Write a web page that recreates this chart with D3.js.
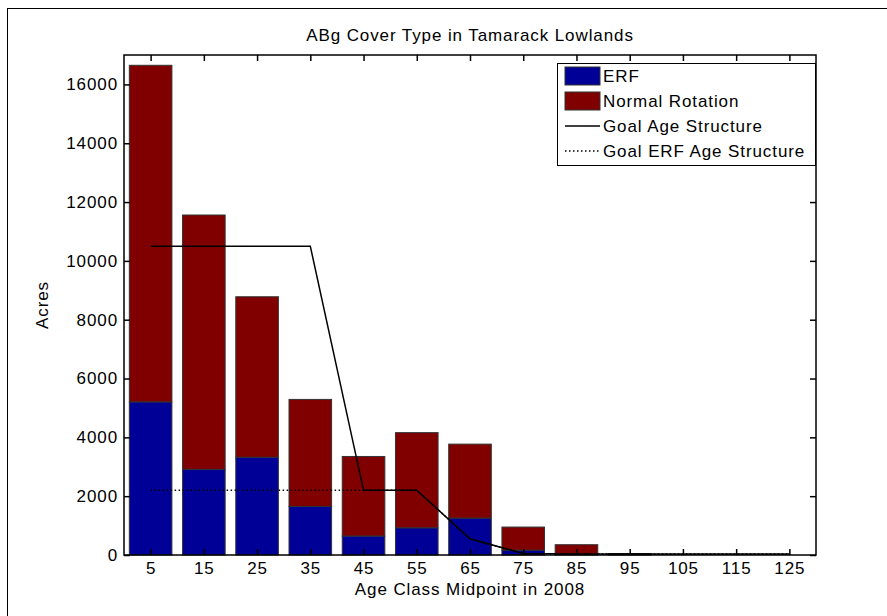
<!DOCTYPE html>
<html>
<head>
<meta charset="utf-8">
<script src="https://cdn.jsdelivr.net/npm/d3@7"></script>
<style>
  body { margin: 0; background: #fff; }
  text { font-family: "Liberation Sans", Arial, sans-serif; fill: #000; font-size: 17px; letter-spacing: 0.9px; }
</style>
</head>
<body>
<script>
// age class midpoints
let ages = [5, 15, 25, 35, 45, 55, 65, 75, 85, 95, 105, 115, 125];
// acres in each class
let erf = [5200, 2910, 3320, 1650, 640, 920, 1250, 160, 0, 0, 0, 0, 0];
let normal = [11450, 8650, 5460, 3640, 2710, 3240, 2520, 790, 350, 50, 0, 0, 0];
let goal = [10500, 10500, 10500, 10500, 2200, 2200, 550, 50, 30, 30, 30, 30, 30];
let goalErf = [2200, 2200, 2200, 2200, 2200, 2200, 550, 50, 30, 30, 30, 30, 30];
let yTicks = [0, 2000, 4000, 6000, 8000, 10000, 12000, 14000, 16000];

let width = 887, height = 616;
let plotLeft = 124, plotRight = 816, plotTop = 55, plotBottom = 555;

let svg = d3.select('body').append('svg').attr('width', width).attr('height', height);

// figure frame
svg.append('rect').attr('x', 7.5).attr('y', 8.5).attr('width', 900).attr('height', 700)
   .attr('fill', 'none').attr('stroke', '#000');

let x = d3.scaleLinear().domain([0, 130]).range([plotLeft, plotRight]);
let y = d3.scaleLinear().domain([0, 17000]).range([plotBottom, plotTop]);

let barW = x(8) - x(0);

// stacked bars
let g = svg.append('g');
ages.forEach(function (a, i) {
  g.append('rect')
   .attr('x', x(a) - barW / 2).attr('width', barW)
   .attr('y', y(erf[i] + normal[i])).attr('height', y(erf[i]) - y(erf[i] + normal[i]))
   .attr('fill', '#800000').attr('stroke', '#333').attr('stroke-width', 1);
  g.append('rect')
   .attr('x', x(a) - barW / 2).attr('width', barW)
   .attr('y', y(erf[i])).attr('height', y(0) - y(erf[i]))
   .attr('fill', '#000096').attr('stroke', '#333').attr('stroke-width', 1);
});

// goal lines
let line = d3.line().x(function (d) { return x(d[0]); }).y(function (d) { return y(d[1]); });
svg.append('path').datum(ages.map(function (a, i) { return [a, goalErf[i]]; }))
   .attr('d', line).attr('fill', 'none').attr('stroke', '#000').attr('stroke-width', 1.5)
   .attr('stroke-dasharray', '1.5,2.5');
svg.append('path').datum(ages.map(function (a, i) { return [a, goal[i]]; }))
   .attr('d', line).attr('fill', 'none').attr('stroke', '#000').attr('stroke-width', 1.5);

// axes, ticks inside, mirrored
function styleAxis(sel) {
  sel.select('.domain').remove();
  sel.selectAll('line').attr('stroke', '#000').attr('stroke-width', 1.5);
  sel.attr('font-size', null).attr('font-family', null);
}
svg.append('g').attr('transform', 'translate(0,' + plotBottom + ')')
   .call(d3.axisBottom(x).tickValues(ages).tickSizeInner(-6).tickPadding(7).tickFormat(d3.format('d')))
   .call(styleAxis);
svg.append('g').attr('transform', 'translate(0,' + plotTop + ')')
   .call(d3.axisTop(x).tickValues(ages).tickSizeInner(-6).tickFormat(''))
   .call(styleAxis);
svg.append('g').attr('transform', 'translate(' + plotLeft + ',0)')
   .call(d3.axisLeft(y).tickValues(yTicks).tickSizeInner(-6).tickPadding(6).tickFormat(d3.format('d')))
   .call(styleAxis);
svg.append('g').attr('transform', 'translate(' + plotRight + ',0)')
   .call(d3.axisRight(y).tickValues(yTicks).tickSizeInner(-6).tickFormat(''))
   .call(styleAxis);
svg.selectAll('.tick text').attr('fill', '#000');

svg.append('rect').attr('x', plotLeft).attr('y', plotTop)
   .attr('width', plotRight - plotLeft).attr('height', plotBottom - plotTop)
   .attr('fill', 'none').attr('stroke', '#000').attr('stroke-width', 1.5);

// labels
svg.append('text').attr('x', (plotLeft + plotRight) / 2).attr('y', 41).attr('text-anchor', 'middle')
   .text('ABg Cover Type in Tamarack Lowlands');
svg.append('text').attr('x', (plotLeft + plotRight) / 2).attr('y', 595).attr('text-anchor', 'middle')
   .text('Age Class Midpoint in 2008');
svg.append('text').attr('transform', 'translate(48,' + (plotTop + plotBottom) / 2 + ') rotate(-90)')
   .attr('text-anchor', 'middle').text('Acres');

// legend
let legend = svg.append('g').attr('transform', 'translate(557,63)');
legend.append('rect').attr('x', 0.5).attr('y', 0.5).attr('width', 258).attr('height', 102)
   .attr('fill', '#fff').attr('stroke', '#000');
let items = [
  { name: 'ERF', type: 'patch', color: '#000096' },
  { name: 'Normal Rotation', type: 'patch', color: '#800000' },
  { name: 'Goal Age Structure', type: 'line', dash: null },
  { name: 'Goal ERF Age Structure', type: 'line', dash: '1.5,2.5' }
];
items.forEach(function (d, i) {
  let cy = 13 + i * 25;
  if (d.type === 'patch') {
    legend.append('rect').attr('x', 8).attr('y', cy - 9).attr('width', 35).attr('height', 18)
      .attr('fill', d.color).attr('stroke', '#333');
  } else {
    legend.append('line').attr('x1', 8).attr('x2', 43).attr('y1', cy).attr('y2', cy)
      .attr('stroke', '#000').attr('stroke-width', 1.5).attr('stroke-dasharray', d.dash);
  }
  legend.append('text').attr('x', 46).attr('y', cy + 6).text(d.name);
});
</script>
</body>
</html>
